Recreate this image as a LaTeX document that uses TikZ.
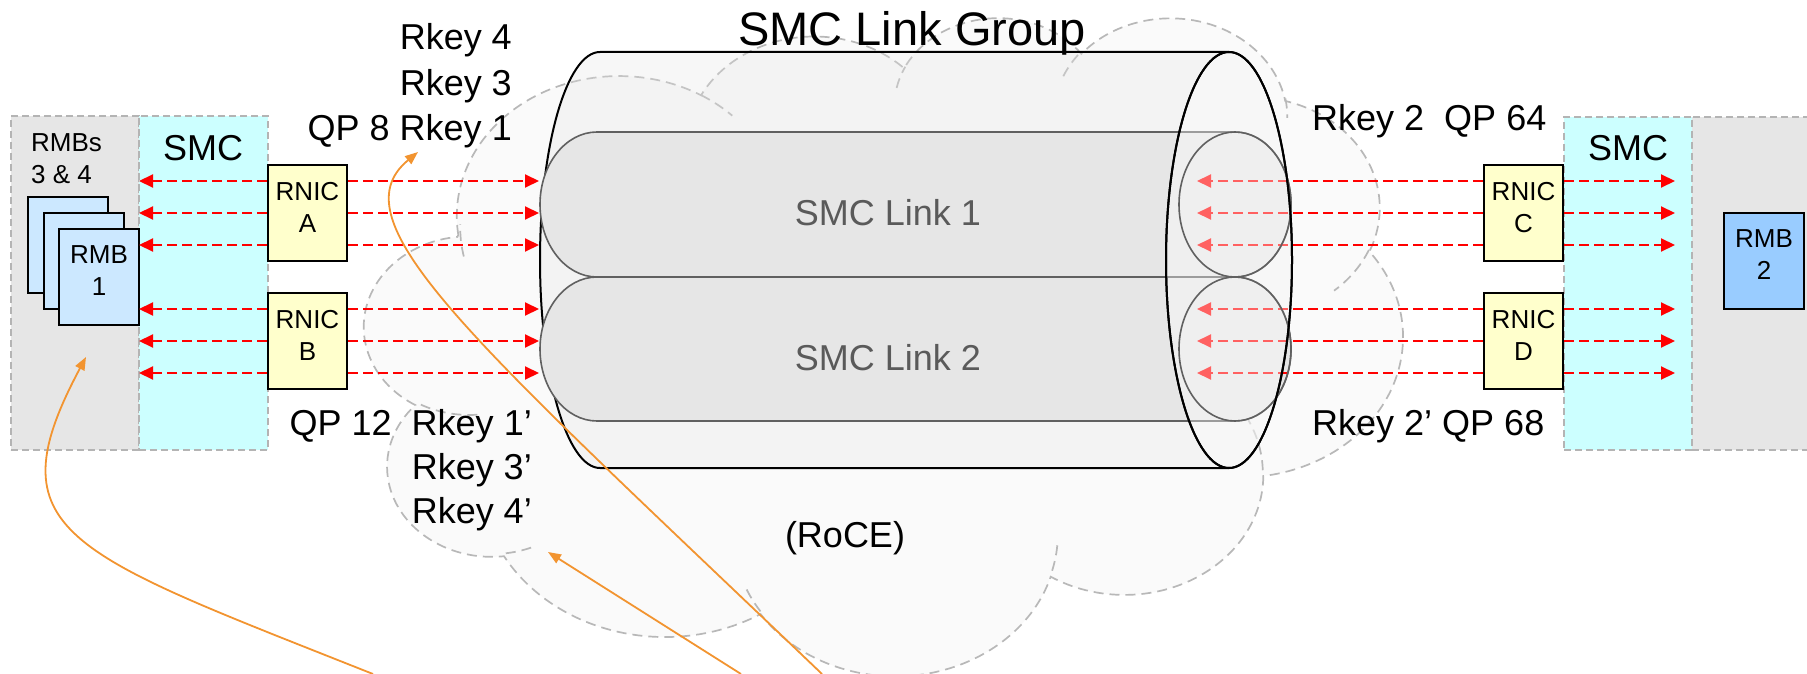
\documentclass[tikz,border=0pt]{standalone}
\usepackage{fontspec}
\setmainfont{Liberation Sans}
\usetikzlibrary{arrows.meta}
\definecolor{panelgray}{HTML}{E6E6E6}
\definecolor{smccyan}{HTML}{CCFFFF}
\definecolor{paneldash}{HTML}{B4B4B4}
\definecolor{rmblight}{HTML}{CCE8FF}
\definecolor{rmbblue}{HTML}{99CCFF}
\definecolor{rnicyellow}{HTML}{FFFFCC}
\definecolor{cloudfill}{HTML}{FAFAFA}
\definecolor{clouddash}{HTML}{B8B8B8}
\definecolor{cylfill}{HTML}{E3E3E3}
\definecolor{tubefill}{HTML}{E6E6E6}
\definecolor{tubeline}{HTML}{606060}
\definecolor{linktext}{HTML}{5A5A5A}
\definecolor{arrowred}{HTML}{FF0000}
\definecolor{orangeline}{HTML}{F29430}
\begin{document}
\begin{tikzpicture}[x=1pt,y=-1pt,
  panel/.style={draw=paneldash, dash pattern=on 7pt off 4pt, line width=1.5pt, inner sep=0pt},
  boxtxt/.style={font=\fontsize{26}{32}\selectfont, align=center, inner sep=0pt, text depth=12pt},
  rnicbox/.style={boxtxt, draw=black, line width=2pt, fill=rnicyellow, minimum width=79pt, minimum height=96pt},
  rmbbox/.style={boxtxt, draw=black, line width=2pt, minimum width=80pt, minimum height=96pt},
  bigtxt/.style={font=\fontsize{36}{45}\selectfont, inner sep=0pt},
  redarrow/.style={draw=arrowred, line width=2pt, dash pattern=on 10pt off 5pt, -{Triangle[length=14pt,width=13pt]}},
  orangearrow/.style={draw=orangeline, line width=1.8pt, -{Triangle[length=13pt,width=10pt]}},
  cloudline/.style={draw=clouddash, line width=1.7pt, dash pattern=on 10pt off 6pt},
  tubebody/.style={fill=tubefill, draw=tubeline, line width=1.6pt},
]
\useasboundingbox (0,0) rectangle (1807,674);

% ---- cloud (RoCE network) ----
\path[cloudline, fill=cloudfill] (458.3,234.9)
  arc[start angle=187.745, delta angle=-128.108, x radius=162.26pt, y radius=139.98pt]
  arc[start angle=152.02, delta angle=-106.57, x radius=128.14pt, y radius=110.69pt]
  arc[start angle=153.50, delta angle=-116.19, x radius=104.88pt, y radius=90.55pt]
  arc[start angle=139.71, delta angle=-129.50, x radius=116.70pt, y radius=100.45pt]
  arc[start angle=74.77, delta angle=-97.98, x radius=128.14pt, y radius=110.78pt]
  arc[start angle=37.51, delta angle=-119.37, x radius=162.79pt, y radius=140.43pt]
  arc[start angle=-0.46, delta angle=-121.52, x radius=139.00pt, y radius=119.83pt]
  arc[start angle=-16.85, delta angle=-129.37, x radius=162.24pt, y radius=140.36pt]
  arc[start angle=-58.98, delta angle=-91.23, x radius=185.49pt, y radius=160.59pt]
  arc[start angle=276.69, delta angle=-139.80, x radius=104.76pt, y radius=90.14pt]
  arc[start angle=239.64, delta angle=-143.75, x radius=104.40pt, y radius=90.55pt]
  -- cycle;
\draw[cloudline]
  (477.4,414.7) arc[start angle=-85.55, delta angle=-34.81, x radius=104.40pt, y radius=90.55pt]
  (531.1,547.6) arc[start angle=-68.24, delta angle=-15.07, x radius=104.76pt, y radius=90.14pt]
  (760.5,611.4) arc[start angle=-146.22, delta angle=-12.25, x radius=162.24pt, y radius=140.36pt]
  (1057.3,545.3) arc[start angle=-4.737, delta angle=-12.11, x radius=162.24pt, y radius=140.36pt]
  (1184.7,365.6) arc[start angle=64.03, delta angle=-64.49, x radius=139.00pt, y radius=119.83pt]
  (1368.9,249.9) arc[start angle=-23.21, delta angle=-26.44, x radius=128.14pt, y radius=110.78pt]
  (1285.4,98.6) arc[start angle=10.21, delta angle=-11.03, x radius=116.70pt, y radius=100.45pt]
  (1063.3,76.2) arc[start angle=156.29, delta angle=-16.58, x radius=116.70pt, y radius=100.45pt]
  (896.6,87.9) arc[start angle=167.73, delta angle=-14.23, x radius=104.88pt, y radius=90.55pt]
  (701.0,95.1) arc[start angle=59.637, delta angle=-13.91, x radius=162.26pt, y radius=139.98pt]
  (463.8,256.5) arc[start angle=-167.90, delta angle=-13.25, x radius=162.26pt, y radius=139.98pt];

% ---- host panels ----
\node[panel, fill=panelgray, minimum width=128pt, minimum height=334pt] (hostL) at (75,283) {};
\node[panel, fill=smccyan, minimum width=129pt, minimum height=334pt] (smcL) at (203.5,283) {};
\node[panel, fill=smccyan, minimum width=128pt, minimum height=333pt] (smcR) at (1628,283.5) {};
\node[panel, fill=panelgray, minimum width=140pt, minimum height=333pt] (hostR) at (1762,283.5) {};
\node[bigtxt] (smcLtxt) at (203,148) {SMC};
\node[bigtxt] (smcRtxt) at (1628,148) {SMC};
\node[font=\fontsize{26}{32}\selectfont, align=left, inner sep=0pt, anchor=north west] (rmbsTxt) at (31,133) {RMBs\\3 \& 4};

\node[rmbbox, fill=rmblight] (rmb3) at (67.5,245) {};
\node[rmbbox, fill=rmblight] (rmb4) at (83.5,261) {};
\node[rmbbox, fill=rmblight] (rmb1) at (99,276.5) {RMB\\1};
\node[rmbbox, fill=rmbblue] (rmb2) at (1764,261) {RMB\\2};

\node[rnicbox] (rnicA) at (307.5,213) {RNIC\\A};
\node[rnicbox] (rnicB) at (307.5,341) {RNIC\\B};
\node[rnicbox] (rnicC) at (1523.5,213) {RNIC\\C};
\node[rnicbox] (rnicD) at (1523.5,341) {RNIC\\D};

% ---- link group cylinder ----
\path[fill=cylfill, fill opacity=0.3] (1229,52) -- (600,52)
  arc[start angle=90, end angle=270, x radius=60pt, y radius=208pt] -- (1229,468)
  arc[start angle=-90, end angle=90, x radius=63pt, y radius=208pt] -- cycle;
\draw[line width=2pt] (1229,52) -- (600,52)
  arc[start angle=90, end angle=270, x radius=60pt, y radius=208pt] -- (1229,468);

\path[tubebody] (1235,132) -- (597,132)
  arc[start angle=90, end angle=270, x radius=57pt, y radius=72.5pt] -- (1235,277)
  arc[start angle=-90, end angle=90, x radius=56pt, y radius=72.5pt] -- cycle;
\path[tubebody] (1235,277) -- (597,277)
  arc[start angle=90, end angle=270, x radius=57pt, y radius=72pt] -- (1235,421)
  arc[start angle=-90, end angle=90, x radius=56pt, y radius=72pt] -- cycle;
\node[bigtxt, text=linktext] (link1) at (888,213) {SMC Link 1};
\node[bigtxt, text=linktext] (link2) at (888,358) {SMC Link 2};

% ---- inbound arrows on the right (under the cylinder cap) ----
\foreach \i/\r/\n in {1/181/rnicC,2/213/rnicC,3/245/rnicC,4/309/rnicD,5/341/rnicD,6/373/rnicD}{
  \coordinate (ci\i) at (1197,\r);
  \draw[redarrow] (\n.west |- ci\i) -- (ci\i);
}
\draw[line width=2pt, fill=white, fill opacity=0.38] (1229,260) ellipse[x radius=63pt, y radius=208pt];
\draw[draw=tubeline, line width=1.6pt] (1235,204.5) ellipse[x radius=56pt, y radius=72.5pt];
\draw[draw=tubeline, line width=1.6pt] (1235,349) ellipse[x radius=56pt, y radius=72pt];
\draw[line width=2pt] (1229,260) ellipse[x radius=63pt, y radius=208pt];

% ---- other arrows ----
\foreach \i/\r/\n in {1/181/rnicA,2/213/rnicA,3/245/rnicA,4/309/rnicB,5/341/rnicB,6/373/rnicB}{
  \coordinate (la\i) at (139,\r);
  \coordinate (ra\i) at (539,\r);
  \draw[redarrow] (\n.west |- la\i) -- (la\i);
  \draw[redarrow] (\n.east |- ra\i) -- (ra\i);
}
\foreach \i/\r/\n in {1/181/rnicC,2/213/rnicC,3/245/rnicC,4/309/rnicD,5/341/rnicD,6/373/rnicD}{
  \coordinate (rd\i) at (1675,\r);
  \draw[redarrow] (\n.east |- rd\i) -- (rd\i);
}

% ---- labels ----
\node[bigtxt, align=right, anchor=east, font=\fontsize{36}{45.5}\selectfont] (keysTop) at (512,86) {Rkey 4\\Rkey 3\\QP 8 Rkey 1};
\node[bigtxt, align=right, anchor=east, font=\fontsize{36}{44}\selectfont] (keysBot) at (532,470) {QP 12\ \ Rkey 1’\\Rkey 3’\\Rkey 4’};
\node[bigtxt, anchor=west] (keysR1) at (1312,121) {Rkey 2\ \ QP 64};
\node[bigtxt, anchor=west] (keysR2) at (1312,426) {Rkey 2’ QP 68};
\node[font=\fontsize{47}{56}\selectfont, inner sep=0pt] (groupTxt) at (912,33) {SMC Link Group};
\node[bigtxt] (roce) at (845,538) {(RoCE)};

% ---- orange pointers ----
\coordinate (o1) at (373,674); \coordinate (t1) at (86,357);
\draw[orangearrow] (o1) .. controls (66,552) and (-8,533) .. (t1);
\coordinate (o2) at (741,674); \coordinate (t2) at (548,552);
\draw[orangearrow] (o2) -- (t2);
\coordinate (o3) at (822,674); \coordinate (t3) at (418,152);
\draw[orangearrow] (o3) .. controls (476,343) and (333,222) .. (t3);
\end{tikzpicture}
\end{document}
